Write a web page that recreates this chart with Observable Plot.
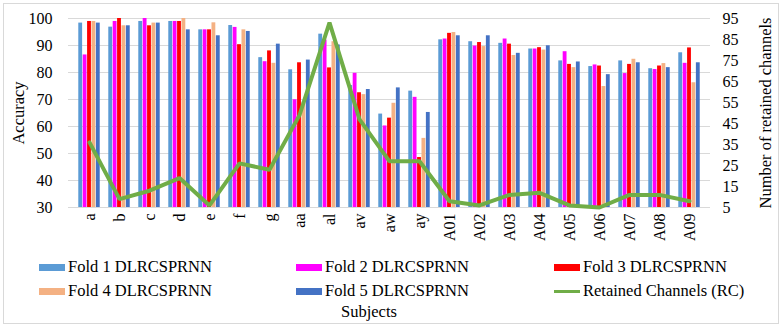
<!DOCTYPE html>
<html>
<head>
<meta charset="utf-8">
<script src="https://cdn.jsdelivr.net/npm/d3@7"></script>
<script src="https://cdn.jsdelivr.net/npm/@observablehq/plot@0.6"></script>
<style>
  html, body { margin: 0; padding: 0; background: #fff; }
  #wrap { position: relative; width: 781px; height: 327px; font-family: "Liberation Serif", "DejaVu Serif", serif; color: #000; }
  #frame { position: absolute; left: 3px; top: 3px; width: 776px; height: 321px; box-sizing: border-box; border: 1px solid #d9d9d9; }
  #chart { position: absolute; left: 0; top: 0; }
  .leg { position: absolute; font-size: 16.5px; line-height: 18px; white-space: nowrap; display: flex; align-items: center; }
  .sw { display: inline-block; width: 26px; height: 7px; margin-right: 3px; }
  .ln { display: inline-block; width: 26px; height: 3px; margin-right: 3px; }
  #xtitle { position: absolute; font-size: 16.5px; left: 341px; top: 302px; }
</style>
</head>
<body>
<div id="wrap">
  <div id="frame"></div>
  <div id="chart"></div>
  <div id="legend"></div>
  <div id="xtitle">Subjects</div>
</div>
<script>
// Subjects on the x axis
const subjects = ["a", "b", "c", "d", "e", "f", "g", "aa", "al", "av", "aw", "ay",
  "A01", "A02", "A03", "A04", "A05", "A06", "A07", "A08", "A09"];

// Accuracy (%) per fold of DLRCSPRNN
const fold1 = [98.3, 96.8, 98.9, 98.9, 95.8, 97.4, 85.5, 81.0, 94.2, 75.2, 64.6, 73.1, 92.1, 91.4, 90.8, 88.7, 84.3, 82.2, 84.3, 81.4, 87.3];
const fold2 = [86.5, 98.9, 100.0, 98.9, 95.8, 96.7, 84.0, 69.9, 92.0, 79.7, 60.2, 70.8, 92.4, 89.8, 92.4, 88.7, 87.7, 82.8, 79.6, 81.1, 83.4];
const fold3 = [98.9, 100.0, 97.3, 98.9, 95.8, 90.3, 88.0, 83.6, 81.7, 72.5, 63.1, 48.5, 94.5, 91.1, 90.5, 89.2, 83.0, 82.4, 83.0, 82.4, 89.1];
const fold4 = [98.9, 97.3, 98.3, 100.0, 98.4, 95.8, 83.4, 69.0, 91.4, 71.8, 68.6, 55.6, 94.8, 89.6, 86.3, 88.3, 81.8, 74.8, 84.9, 83.3, 76.2];
const fold5 = [98.3, 97.3, 98.3, 95.8, 93.6, 95.2, 90.5, 84.6, 90.2, 73.7, 74.3, 65.2, 93.6, 93.6, 87.1, 89.9, 83.9, 79.2, 83.6, 81.8, 83.6];

// Number of retained channels (right axis)
const channels = [36, 9, 13, 19, 6, 26, 23, 49, 93, 47, 27, 27, 8, 6, 11, 12, 6, 5, 11, 11, 8];

const seriesNames = ["Fold 1 DLRCSPRNN", "Fold 2 DLRCSPRNN", "Fold 3 DLRCSPRNN",
  "Fold 4 DLRCSPRNN", "Fold 5 DLRCSPRNN"];
const seriesColors = ["#5b9bd5", "#ff00ff", "#ff0000", "#f4b183", "#4472c4"];
const lineName = "Retained Channels (RC)";
const lineColor = "#70ad47";

const accTicks = d3.range(30, 101, 10);
const rcTicks = d3.range(5, 96, 10);

// Layout
const W = 781, H = 250, ML = 68, MR = 71, MT = 18, MB = 43;
const bandW = (W - ML - MR) / subjects.length;
const barW = 4.4;
const groupPad = (bandW - seriesNames.length * barW) / 2;
const serif = "'Liberation Serif', 'DejaVu Serif', serif";

// Right-axis values mapped onto the accuracy scale
const rcToAcc = d3.scaleLinear([5, 95], [30, 100]);

const folds = [fold1, fold2, fold3, fold4, fold5];
const barMarks = folds.map((vals, i) =>
  Plot.barY(subjects.map((s, j) => ({subject: s, value: vals[j]})), {
    x: "subject",
    y1: () => 30,
    y2: "value",
    fill: seriesColors[i],
    insetLeft: groupPad + i * barW,
    insetRight: bandW - groupPad - (i + 1) * barW
  })
);

const lineData = subjects.map((s, j) => ({subject: s, rc: channels[j]}));

const chart = Plot.plot({
  width: W,
  height: H,
  marginLeft: ML,
  marginRight: MR,
  marginTop: MT,
  marginBottom: MB,
  style: {fontFamily: serif, fontSize: "16px", color: "#000", background: "transparent", overflow: "visible"},
  x: {type: "band", domain: subjects, padding: 0},
  y: {domain: [30, 100]},
  marks: [
    Plot.gridY(accTicks, {stroke: "#d9d9d9", strokeOpacity: 1}),
    ...barMarks,
    Plot.lineY(lineData, {x: "subject", y: d => rcToAcc(d.rc), stroke: lineColor, strokeWidth: 4, strokeLinejoin: "miter"}),
    Plot.axisY(accTicks, {anchor: "left", tickSize: 0, tickPadding: 16, label: null, fontSize: 16}),
    Plot.axisY(rcTicks.map(v => rcToAcc(v)), {anchor: "right", tickSize: 0, tickPadding: 12, label: null, fontSize: 16,
      tickFormat: v => Math.round(rcToAcc.invert(v))}),
    Plot.axisX({tickRotate: -90, tickSize: 0, tickPadding: 6, label: null, fontSize: 16}),
    Plot.text(["Accuracy"], {frameAnchor: "left", textAnchor: "middle", dx: -50, rotate: -90, fontSize: 16.5}),
    Plot.text(["Number of retained channels"], {frameAnchor: "right", textAnchor: "middle", dx: 55, rotate: -90, fontSize: 16.5})
  ]
});
document.getElementById("chart").appendChild(chart);

// Legend below the plot
const legend = document.getElementById("legend");
const colX = [39, 296, 554];
const rowY = [258, 282];
const items = seriesNames.map((n, i) => ({name: n, color: seriesColors[i], line: false}))
  .concat([{name: lineName, color: lineColor, line: true}]);
items.forEach((it, k) => {
  const el = document.createElement("div");
  el.className = "leg";
  el.style.left = colX[k % 3] + "px";
  el.style.top = rowY[Math.floor(k / 3)] + "px";
  const sw = document.createElement("span");
  sw.className = it.line ? "ln" : "sw";
  sw.style.background = it.color;
  el.appendChild(sw);
  el.appendChild(document.createTextNode(it.name));
  legend.appendChild(el);
});
</script>
</body>
</html>
